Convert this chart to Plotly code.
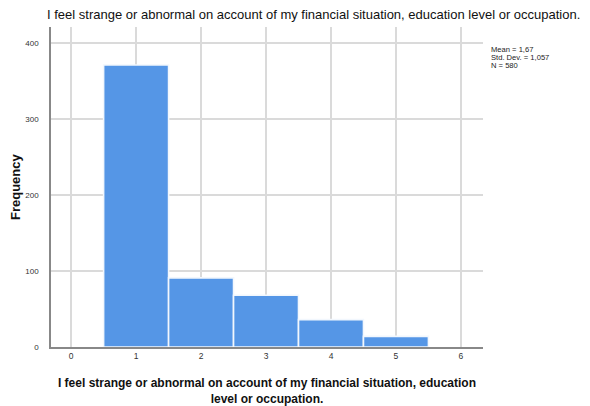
import plotly.graph_objects as go

categories = [1, 2, 3, 4, 5]
frequencies = [371, 91, 68, 36, 14]
x_ticks = [0, 1, 2, 3, 4, 5, 6]
y_ticks = [0, 100, 200, 300, 400]
stats_lines = ["Mean = 1,67", "Std. Dev. = 1,057", "N = 580"]
title_text = "I feel strange or abnormal on account of my financial situation, education level or occupation."
xtitle_text = "<b>I feel strange or abnormal on account of my financial situation, education<br>level or occupation.</b>"
ytitle_text = "<b>Frequency</b>"

L, R, T, B = 51, 107, 27, 59
W, H = 590, 406
PW, PH = W - L - R, H - T - B

fig = go.Figure()
fig.add_trace(go.Bar(
    x=categories, y=frequencies, width=1,
    marker=dict(color="#5596E6", line=dict(color="#F2F7FD", width=1.6)),
    hoverinfo="x+y",
))

fig.update_layout(
    width=W, height=H,
    margin=dict(l=L, r=R, t=T, b=B),
    paper_bgcolor="white", plot_bgcolor="white",
    showlegend=False,
    font=dict(family="Liberation Sans, Arial, sans-serif", color="#222"),
    xaxis=dict(range=[-0.31, 6.34], tickvals=x_ticks, ticks="", automargin=False,
               showgrid=True, gridcolor="#DADADA", gridwidth=1.5,
               showline=True, linecolor="#888", linewidth=1.5,
               zeroline=False, tickfont=dict(size=8.5, color="#333"),
               title=dict(text=xtitle_text, font=dict(size=12, color="#111"), standoff=19)),
    yaxis=dict(range=[0, 421], tickvals=y_ticks, ticks="", automargin=False,
               showgrid=True, gridcolor="#DADADA", gridwidth=1.5,
               showline=True, linecolor="#888", linewidth=1.5,
               zeroline=False, tickfont=dict(size=8, color="#333"),
               ticklabelstandoff=9),
)

# y-axis title
fig.add_annotation(
    text=ytitle_text, xref="paper", yref="paper",
    x=(15 - L) / PW, y=0.5, xanchor="center", yanchor="middle", textangle=-90,
    showarrow=False, font=dict(size=13, color="#111"),
)

# chart title
fig.add_annotation(
    text=title_text, xref="paper", yref="paper",
    x=(313 - L) / PW, y=1 + (T - 15) / PH, xanchor="center", yanchor="middle",
    showarrow=False, font=dict(size=13, color="#111"),
)

# statistics box lines
for i, line in enumerate(stats_lines):
    fig.add_annotation(
        text=line, xref="paper", yref="paper",
        x=(489 - L) / PW, y=1 - (49.7 + 8 * i - T) / PH,
        xanchor="left", yanchor="middle", align="left",
        showarrow=False, font=dict(size=7.6, color="#222"),
    )

fig.write_html("out.html", config={"displayModeBar": False},
               post_script="document.body.style.margin='0';")
